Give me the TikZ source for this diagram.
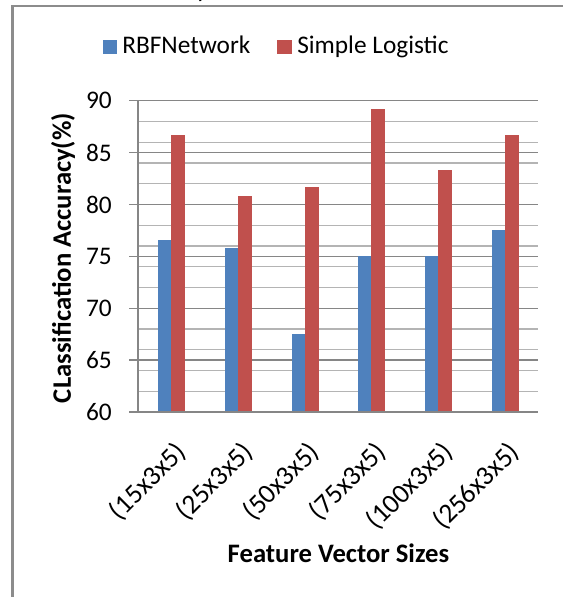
\documentclass[tikz,border=0pt]{standalone}
\usepackage{fontspec}
\setmainfont{Carlito}
\definecolor{rbfblue}{HTML}{4F81BD}
\definecolor{slred}{HTML}{C0504D}
\definecolor{majorgrid}{HTML}{868686}
\definecolor{minorgrid}{HTML}{B4B4B4}
\definecolor{framegray}{HTML}{8C8C8C}
\begin{document}
\begin{tikzpicture}[x=0.75pt,y=-0.75pt,
  chartfont/.style={font=\fontsize{19}{22}\selectfont},
  catfont/.style={font=\fontsize{20.5}{24}\selectfont},
  titlefont/.style={font=\bfseries\fontsize{20}{24}\selectfont},
  majorline/.style={draw=majorgrid,line width=1pt},
  minorline/.style={draw=minorgrid,line width=0.9pt},
  rbfbar/.style={fill=rbfblue,draw=none},
  slbar/.style={fill=slred,draw=none},
  ticklabel/.style={chartfont,anchor=east,inner sep=0pt},
  catlabel/.style={catfont,anchor=north east,rotate=45,inner sep=1pt}]
\useasboundingbox (0,0) rectangle (563,597);
% value -> vertical position
\def\ytop{100.7}\def\ybot{412}
% outer frame (left and top edges)
\draw[draw=framegray,line width=1.6pt] (12.5,600) |- (566,6);
% caption fragment above the frame
\node[chartfont,anchor=base,inner sep=0pt] (capfrag) at (202,-2.5) {y};
% minor gridlines every 2 units
\foreach \v in {62,64,66,68,72,74,76,78,82,84,86,88}{
  \pgfmathsetmacro\yy{\ybot-(\v-60)*(\ybot-\ytop)/30}
  \draw[minorline] (138,\yy) -- (538,\yy);
}
% major gridlines, tick marks and labels
\foreach \v in {60,65,...,90}{
  \pgfmathsetmacro\yy{\ybot-(\v-60)*(\ybot-\ytop)/30}
  \draw[majorline] (129,\yy) -- (538,\yy);
  \node[ticklabel] (tick\v) at (112,\yy) {\v};
}
% value axis
\draw[majorline] (138,\ytop) -- (138,\ybot);
% bars
\foreach \i/\a/\b/\lab in {1/76.6/86.7/(15x3x5),2/75.8/80.8/(25x3x5),3/67.5/81.7/(50x3x5),
                          4/75.0/89.2/(75x3x5),5/75.0/83.3/(100x3x5),6/77.5/86.7/(256x3x5)}{
  \pgfmathsetmacro\cx{138+(\i-0.5)*400/6}
  \pgfmathsetmacro\ya{\ybot-(\a-60)*(\ybot-\ytop)/30}
  \pgfmathsetmacro\yb{\ybot-(\b-60)*(\ybot-\ytop)/30}
  \fill[rbfbar] (\cx-13,\ybot) rectangle (\cx,\ya);
  \fill[slbar] (\cx,\ybot) rectangle (\cx+14,\yb);
  \node[catlabel] (cat\i) at (\cx+2,437) {\lab};
}
% category axis
\draw[majorline] (129,\ybot) -- (538,\ybot);
% legend
\fill[rbfblue] (103,40) rectangle (117,54);
\node[chartfont,anchor=base west,inner sep=0pt] (legrbf) at (122,53) {RBFNetwork};
\fill[slred] (277,40) rectangle (292,54);
\node[chartfont,anchor=base west,inner sep=0pt] (legsl) at (297,53) {Simple Logistic};
% axis titles
\node[titlefont,rotate=90] (ytitle) at (63,258) {CLassification Accuracy(\%)};
\node[titlefont] (xtitle) at (338.5,553) {Feature Vector Sizes};
\end{tikzpicture}
\end{document}
